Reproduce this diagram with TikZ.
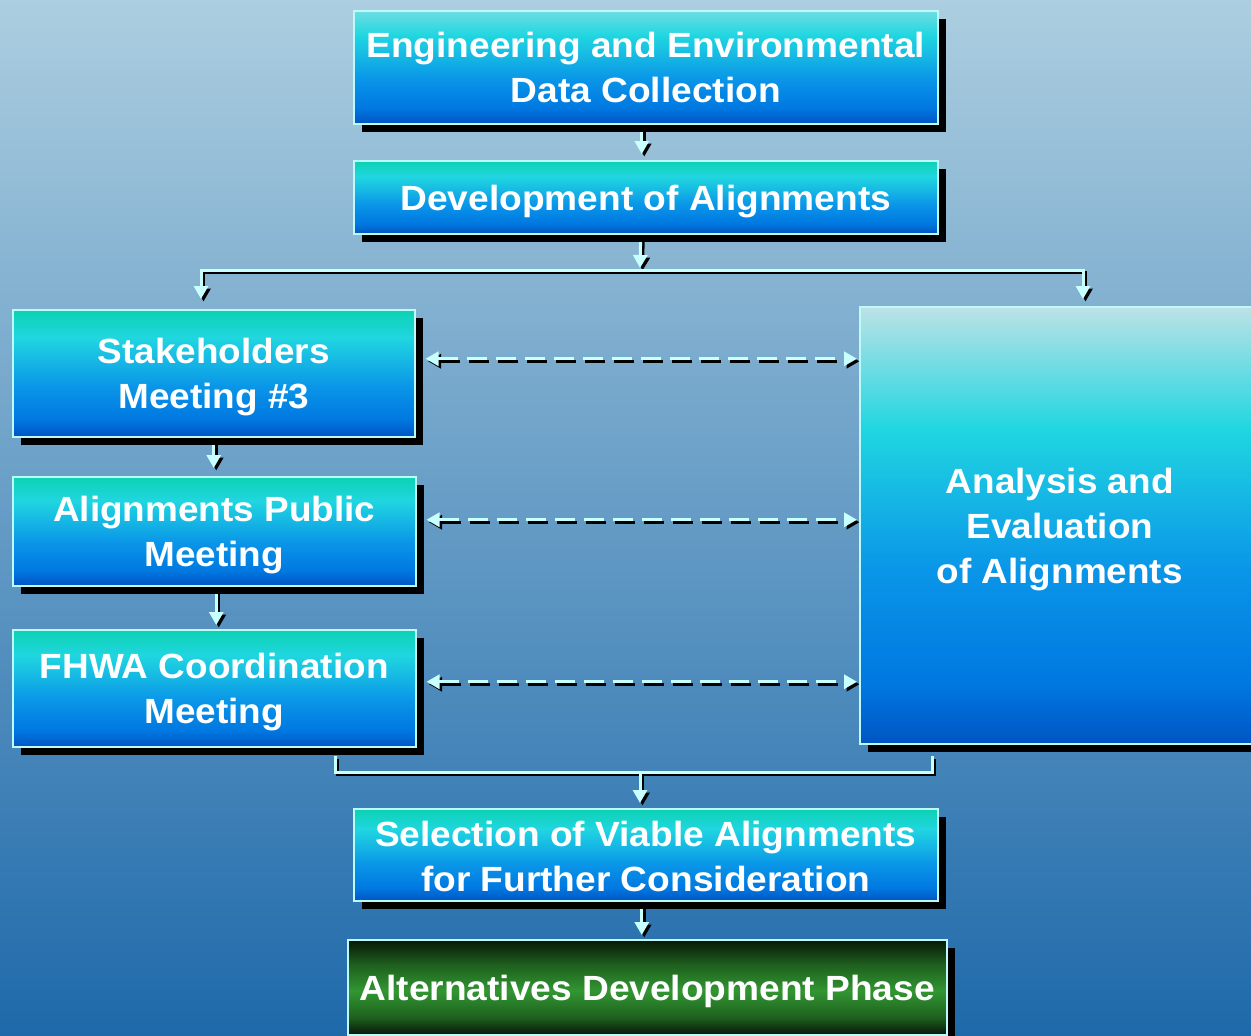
\documentclass[tikz,border=0pt]{standalone}
\usepackage{fontspec}
\newfontfamily\wfontA{Liberation Sans}[FakeStretch=1.06]
\newfontfamily\wfontB{Liberation Sans}[FakeStretch=1.055]
\usetikzlibrary{arrows.meta,shadows}
\definecolor{bgtop}{RGB}{172,206,224}
\definecolor{bgmid}{RGB}{88,162,204}
\definecolor{bgbot}{RGB}{30,105,170}
\definecolor{bord}{RGB}{190,250,250}
\definecolor{cya}{RGB}{200,255,255}
\definecolor{bxA}{RGB}{0,85,195}
\definecolor{bxB}{RGB}{0,120,225}
\definecolor{bxC}{RGB}{10,150,232}
\definecolor{bxD}{RGB}{32,214,224}
\definecolor{bxE}{RGB}{12,210,178}
\definecolor{bxF}{RGB}{110,222,226}
\definecolor{anT}{RGB}{188,226,230}
\definecolor{grA}{RGB}{8,22,8}
\definecolor{grB}{RGB}{30,95,30}
\definecolor{grC}{RGB}{50,150,50}
\pgfdeclareverticalshading{boxsh}{100bp}{color(0bp)=(bxA); color(25bp)=(bxA); color(32bp)=(bxB); color(45bp)=(bxC); color(64bp)=(bxD); color(75bp)=(bxE); color(100bp)=(bxE)}
\pgfdeclareverticalshading{topsh}{100bp}{color(0bp)=(bxA); color(25bp)=(bxA); color(32bp)=(bxB); color(45bp)=(bxC); color(64bp)=(bxD); color(75bp)=(bxF); color(100bp)=(bxF)}
\pgfdeclareverticalshading{ansh}{100bp}{color(0bp)=(bxA); color(25bp)=(bxA); color(32bp)=(bxB); color(45bp)=(bxC); color(61bp)=(bxD); color(75bp)=(anT); color(100bp)=(anT)}
\pgfdeclareverticalshading{grsh}{100bp}{color(0bp)=(grA); color(25bp)=(grA); color(34bp)=(grB); color(48bp)=(grC); color(62bp)=(grB); color(75bp)=(grA); color(100bp)=(grA)}
\pgfdeclarelayer{bgl}
\pgfdeclarelayer{cn}
\pgfsetlayers{bgl,cn,main}
\tikzset{
  bx/.style={draw=bord, line width=1.5pt, shading=boxsh, inner sep=0pt, anchor=north west,
    drop shadow={shadow xshift=8pt, shadow yshift=-8pt, fill=black, opacity=1, draw=none}},
  lbl/.style={text=white, align=center, inner sep=0pt},
  ctext/.style={lbl, font=\wfontA\bfseries\fontsize{35}{45}\selectfont},
  ltext/.style={lbl, font=\wfontB\bfseries\fontsize{35}{45}\selectfont},
  arr/.style={-{Triangle[width=14pt,length=13pt]}},
  arrr/.style={{Triangle[width=14pt,length=13pt]}-{Triangle[width=14pt,length=13pt]}},
  darr/.style={arrr, dash pattern=on 20pt off 9pt},
}
\newcommand\cnx[2][]{%
  \draw[line width=3pt, black, #1, transform canvas={shift={(2.5pt,-2.5pt)}}] #2;
  \draw[line width=3pt, cya, #1] #2;}
\begin{document}
\begin{tikzpicture}[x=1pt,y=-1pt]
\useasboundingbox (0,0) rectangle (1251,1036);
\begin{pgfonlayer}{bgl}
  \fill[top color=bgtop, middle color=bgmid, bottom color=bgbot] (0,0) rectangle (1251,1036);
\end{pgfonlayer}

\node[bx, shading=topsh, minimum width=584pt, minimum height=113pt] (b1) at (353,10) {};
\node[bx, minimum width=584pt, minimum height=73pt] (b2) at (353,160) {};
\node[bx, minimum width=402pt, minimum height=127pt] (st) at (12,309) {};
\node[bx, minimum width=403pt, minimum height=109pt] (al) at (12,476) {};
\node[bx, minimum width=403pt, minimum height=117pt] (fh) at (12,629) {};
\node[bx, shading=ansh, minimum width=400pt, minimum height=437pt] (an) at (859,306) {};
\node[bx, minimum width=584pt, minimum height=92pt] (se) at (353,808) {};
\node[bx, shading=grsh, minimum width=599pt, minimum height=95pt] (gr) at (347,939) {};

\node[ctext] (b1t) at ([yshift=-0.5pt]b1.center) {Engineering and Environmental\\Data Collection};
\node[ctext] (b2t) at ([yshift=-4pt]b2.center) {Development of Alignments};
\node[ltext] (stt) at ([yshift=-3.5pt]st.center) {Stakeholders\\Meeting \#3};
\node[ltext] (alt) at ([yshift=-3.5pt]al.center) {Alignments Public\\Meeting};
\node[ltext] (fht) at ([yshift=-3.5pt]fh.center) {FHWA Coordination\\Meeting};
\node[ltext] (ant) at ([yshift=-4pt]an.center) {Analysis and\\Evaluation\\of Alignments};
\node[ctext] (set) at ([yshift=-1.5pt]se.center) {Selection of Viable Alignments\\for Further Consideration};
\node[ctext] (grt) at ([yshift=-4pt]gr.center) {Alternatives Development Phase};

\coordinate (barM) at (640,268);
\coordinate (barL) at (201,270);
\coordinate (barR) at (1083,270);
\coordinate (tL) at (201,299);
\coordinate (tR) at (1083,299);
\coordinate (k1) at (335,756);
\coordinate (k2) at (335,772);
\coordinate (k3) at (932,772);
\coordinate (k4) at (932,756);
\coordinate (kM) at (640,772);
\path ([xshift=10pt,yshift=14.5pt]st.east) coordinate (d1);
\path ([xshift=10pt,yshift=11.5pt]al.east) coordinate (d2);
\path ([xshift=10pt,yshift=6.5pt]fh.east) coordinate (d3);

\begin{pgfonlayer}{cn}
  \cnx[arr, shorten >=6pt]{([xshift=-4pt]b1.south) -- ([xshift=-4pt]b2.north)}
  \cnx[arr]{([xshift=-5pt]b2.south) -- (barM)}
  \cnx[arrr]{(tL) -- (barL) -- (barR) -- (tR)}
  \cnx[arr, shorten >=8pt]{(st.south) -- (st.south |- al.north)}
  \cnx[arr, shorten >=4pt]{([xshift=2pt]al.south) -- ([xshift=2pt]al.south |- fh.north)}
  \cnx[darr, shorten >=2pt]{(d1) -- (d1 -| an.west)}
  \cnx[darr, shorten >=2pt]{(d2) -- (d2 -| an.west)}
  \cnx[darr, shorten >=2pt]{(d3) -- (d3 -| an.west)}
  \cnx{(k1) -- (k2) -- (k3) -- (k4)}
  \cnx[arr, shorten >=5pt]{(kM) -- (kM |- se.north)}
  \cnx[arr, shorten >=4pt]{([xshift=-4pt]se.south) -- ([xshift=-4pt]se.south |- gr.north)}
\end{pgfonlayer}
\end{tikzpicture}
\end{document}
